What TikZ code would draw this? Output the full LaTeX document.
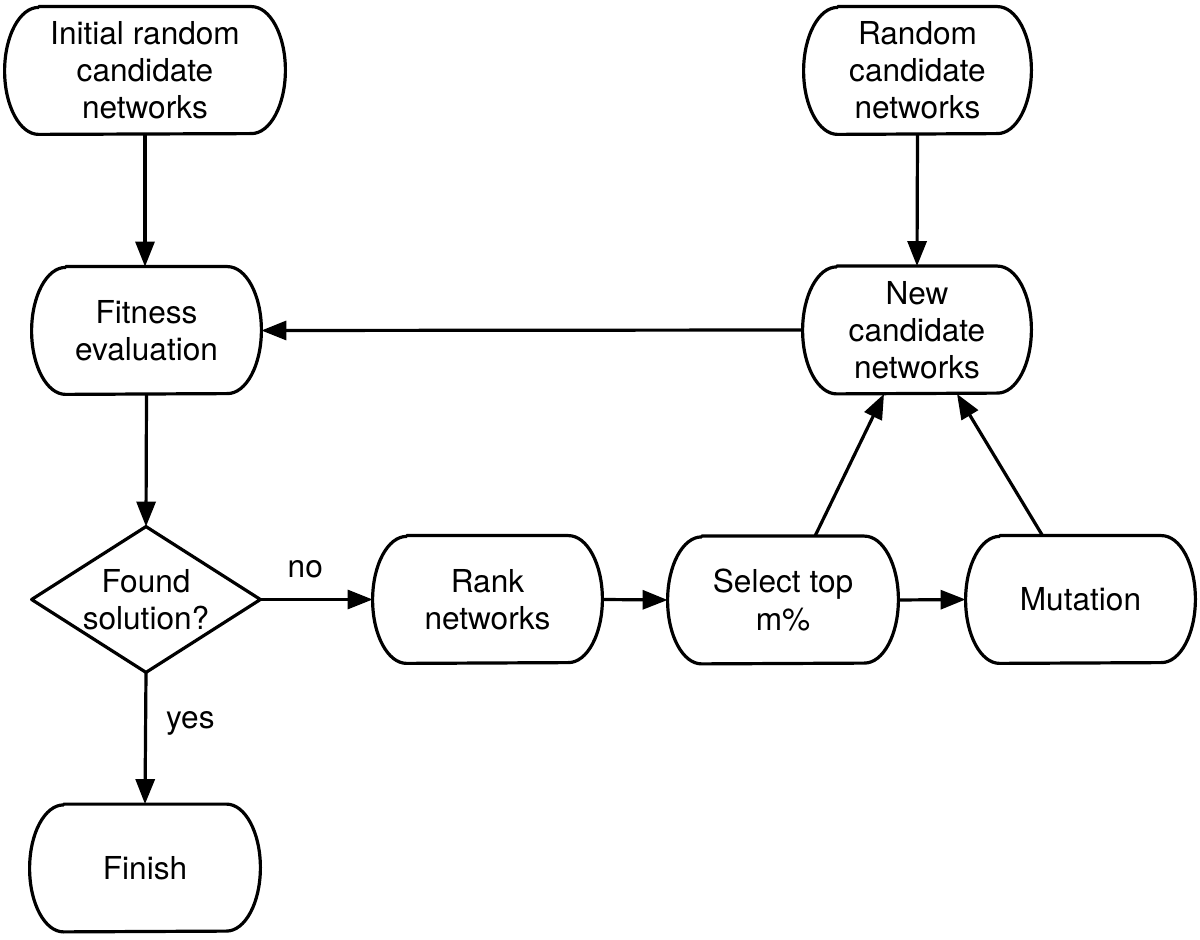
\documentclass[tikz,border=0pt]{standalone}
\usepackage{fontspec}
\setmainfont{TeX Gyre Heros}
\usetikzlibrary{arrows.meta}
\begin{document}
\begin{tikzpicture}[x=0.5pt,y=-0.5pt,
  base/.style={rectangle, inner sep=0pt, align=center, font=\fontsize{15.8pt}{18.6pt}\selectfont},
  term/.style={base, minimum width=#1, minimum height=63.5pt},
  lbl/.style={inner sep=0pt, font=\fontsize{15.8pt}{18.6pt}\selectfont},
  outline/.style={line width=1.6pt, line join=round},
  arr/.style={line width=1.6pt, -{Triangle[length=12.5pt,width=9.5pt]}}
]
\fill[white] (0,0) rectangle (1200,940);
\useasboundingbox (0,0) rectangle (1200,940);

\node[term=140pt] (init) at (145,70.5) {Initial random\\candidate\\networks};
\node[term=113.5pt] (rand) at (917.5,70.5) {Random\\candidate\\networks};
\node[term=114.5pt] (fit) at (146.5,330.5) {Fitness\\evaluation};
\node[term=114pt] (new) at (917,330) {New\\candidate\\networks};
\node[base, minimum width=114pt, minimum height=72.5pt] (dec) at (146,599.5) {Found\\solution?};
\node[term=114.5pt] (rank) at (487.5,599.5) {Rank\\networks};
\node[term=115pt] (sel) at (783,600) {Select top\\m\%};
\node[term=114.5pt] (mut) at (1080.5,599.5) {Mutation};
\node[term=115pt] (fin) at (145,868) {Finish};

\foreach \n in {init,rand,fit,new,rank,sel,mut,fin}
  \draw[outline] ([xshift=17pt]\n.north west) -- ([xshift=-17pt]\n.north east)
    arc[start angle=90,end angle=-90,x radius=17pt,y radius=31.75pt]
    -- ([xshift=17pt]\n.south west)
    arc[start angle=270,end angle=90,x radius=17pt,y radius=31.75pt] -- cycle;

\draw[outline] (dec.north) -- (dec.east) -- (dec.south) -- (dec.west) -- cycle;

\draw[arr] (init.south) -- (init.south |- fit.north);
\draw[arr] (rand.south) -- (new.north);
\draw[arr] (new.west) -- (fit.east);
\draw[arr] (fit.south) -- (dec.north);
\draw[arr] (dec.east) -- node[lbl, pos=0.4, anchor=base, yshift=11pt] (lno) {no} (rank.west);
\draw[arr] (rank.east) -- (sel.west);
\draw[arr] (sel.east) -- (mut.west);
\draw[arr] ([xshift=16pt]sel.north) -- ([xshift=-16.5pt]new.south);
\draw[arr] ([xshift=-19pt]mut.north) -- ([xshift=20pt]new.south);
\draw[arr] (dec.south) -- node[lbl, pos=0.424, anchor=base west, xshift=9.5pt] (lyes) {yes} (fin.north);
\end{tikzpicture}
\end{document}
